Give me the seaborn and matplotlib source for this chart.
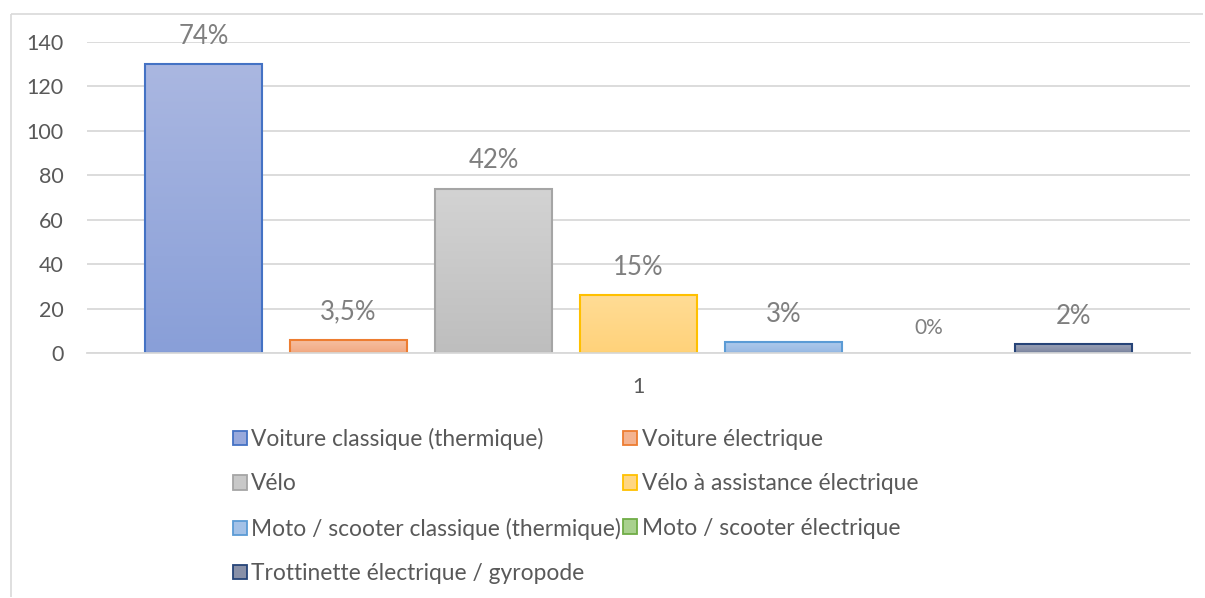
import matplotlib
matplotlib.use("Agg")
import matplotlib.pyplot as plt
import seaborn as sns
import numpy as np
import pandas as pd
from matplotlib.patches import Patch
from matplotlib.lines import Line2D
from matplotlib.colors import to_rgb

# ---- data ----
categories = ["1"]
series = [
    "Voiture classique (thermique)",
    "Voiture électrique",
    "Vélo",
    "Vélo à assistance électrique",
    "Moto / scooter classique (thermique)",
    "Moto / scooter électrique",
    "Trottinette électrique / gyropode",
]
values = [130, 6, 74, 26, 5, 0, 4]
pct_labels = ["74%", "3,5%", "42%", "15%", "3%", "0%", "2%"]
y_ticks = [0, 20, 40, 60, 80, 100, 120, 140]

# ---- style ----
fills = ["#98A9DC", "#F4B390", "#C8C8C8", "#FFD683", "#A3C1E7", "#A9D18E", "#8890A8"]
tops = ["#AAB7E1", "#F6C0A2", "#D3D3D3", "#FFDC95", "#B0CAEC", "#B5D99E", "#9AA2B8"]
bottoms = ["#899FD8", "#F2A982", "#BEBEBE", "#FFD27A", "#97B9E3", "#9CC97F", "#7C859E"]
edges = ["#4472C4", "#ED7D31", "#A5A5A5", "#FFC000", "#5B9BD5", "#70AD47", "#264478"]

sns.set_theme(style="white")
plt.rcParams["font.family"] = ["Lato", "DejaVu Sans"]

df = pd.DataFrame({"cat": categories * len(series), "series": series, "value": values})

fig = plt.figure(figsize=(12.05, 5.98), dpi=100)
ax = fig.add_axes([87 / 1205, 1 - 353 / 598, (1190 - 87) / 1205, (353 - 42) / 598])

sns.barplot(data=df, x="cat", y="value", hue="series", hue_order=series,
            palette=fills, saturation=1, width=0.92, gap=0.19, dodge=True,
            ax=ax, legend=False, err_kws={"linewidth": 0})

# vertical gradient fill inside each bar, edge drawn on top
for cont, ec, tc, bc in zip(ax.containers, edges, tops, bottoms):
    for p in cont:
        h = p.get_height()
        if h <= 0:
            p.set_visible(False)
            continue
        x0, w, y0 = p.get_x(), p.get_width(), p.get_y()
        t = np.linspace(0, 1, 64)[:, None]
        grad = (1 - t) * np.array(to_rgb(bc)) + t * np.array(to_rgb(tc))
        img = ax.imshow(grad[:, None, :], extent=[x0, x0 + w, y0, y0 + h],
                        origin="lower", aspect="auto", interpolation="bilinear",
                        zorder=1.5)
        img.set_clip_path(p)
        p.set_facecolor("none")
        p.set_edgecolor(ec)
        p.set_linewidth(1.5)
        p.set_zorder(2)

for cont, lab in zip(ax.containers, pct_labels):
    fs = 15 if lab == "0%" else 18.5
    ax.bar_label(cont, labels=[lab], padding=11, color="#7F7F7F", fontsize=fs)

ax.set_ylim(0, 140)
ax.set_xlim(-0.5, 0.5)
ax.set_aspect("auto")
ax.set_yticks(y_ticks)
ax.yaxis.grid(True, color="#D9D9D9", linewidth=1.3)
ax.set_axisbelow(True)
for s in ["top", "right", "left"]:
    ax.spines[s].set_visible(False)
ax.spines["bottom"].set_color("#D9D9D9")
ax.spines["bottom"].set_linewidth(1.3)
ax.tick_params(axis="both", length=0, labelsize=15.5, colors="#595959")
ax.tick_params(axis="x", pad=17)
ax.tick_params(axis="y", pad=17)
ax.set_xlabel("")
ax.set_ylabel("")

# legend (row-major order in 2 columns)
handles = [Patch(facecolor=f, edgecolor=e, linewidth=1.3) for f, e in zip(fills, edges)]
order = [0, 2, 4, 6, 1, 3, 5]
fig.legend([handles[i] for i in order], [series[i] for i in order],
           ncol=2, loc="upper left", bbox_to_anchor=(224 / 1205, 1 - 419 / 598),
           frameon=False, fontsize=16.4, labelcolor="#595959",
           handlelength=0.6, handleheight=0.6, handletextpad=0.2,
           columnspacing=0.1, labelspacing=1.02, borderaxespad=0)

# outer frame (top and left edges visible)
fx, fy = 10.5 / 1205, 1 - 13.5 / 598
fig.add_artist(Line2D([fx, 0.998], [fy, fy], transform=fig.transFigure,
                      color="#D9D9D9", linewidth=1.2, solid_capstyle="butt"))
fig.add_artist(Line2D([fx, fx], [0.002, fy], transform=fig.transFigure,
                      color="#D9D9D9", linewidth=1.2, solid_capstyle="butt"))

fig.savefig("out.png", dpi=100)
